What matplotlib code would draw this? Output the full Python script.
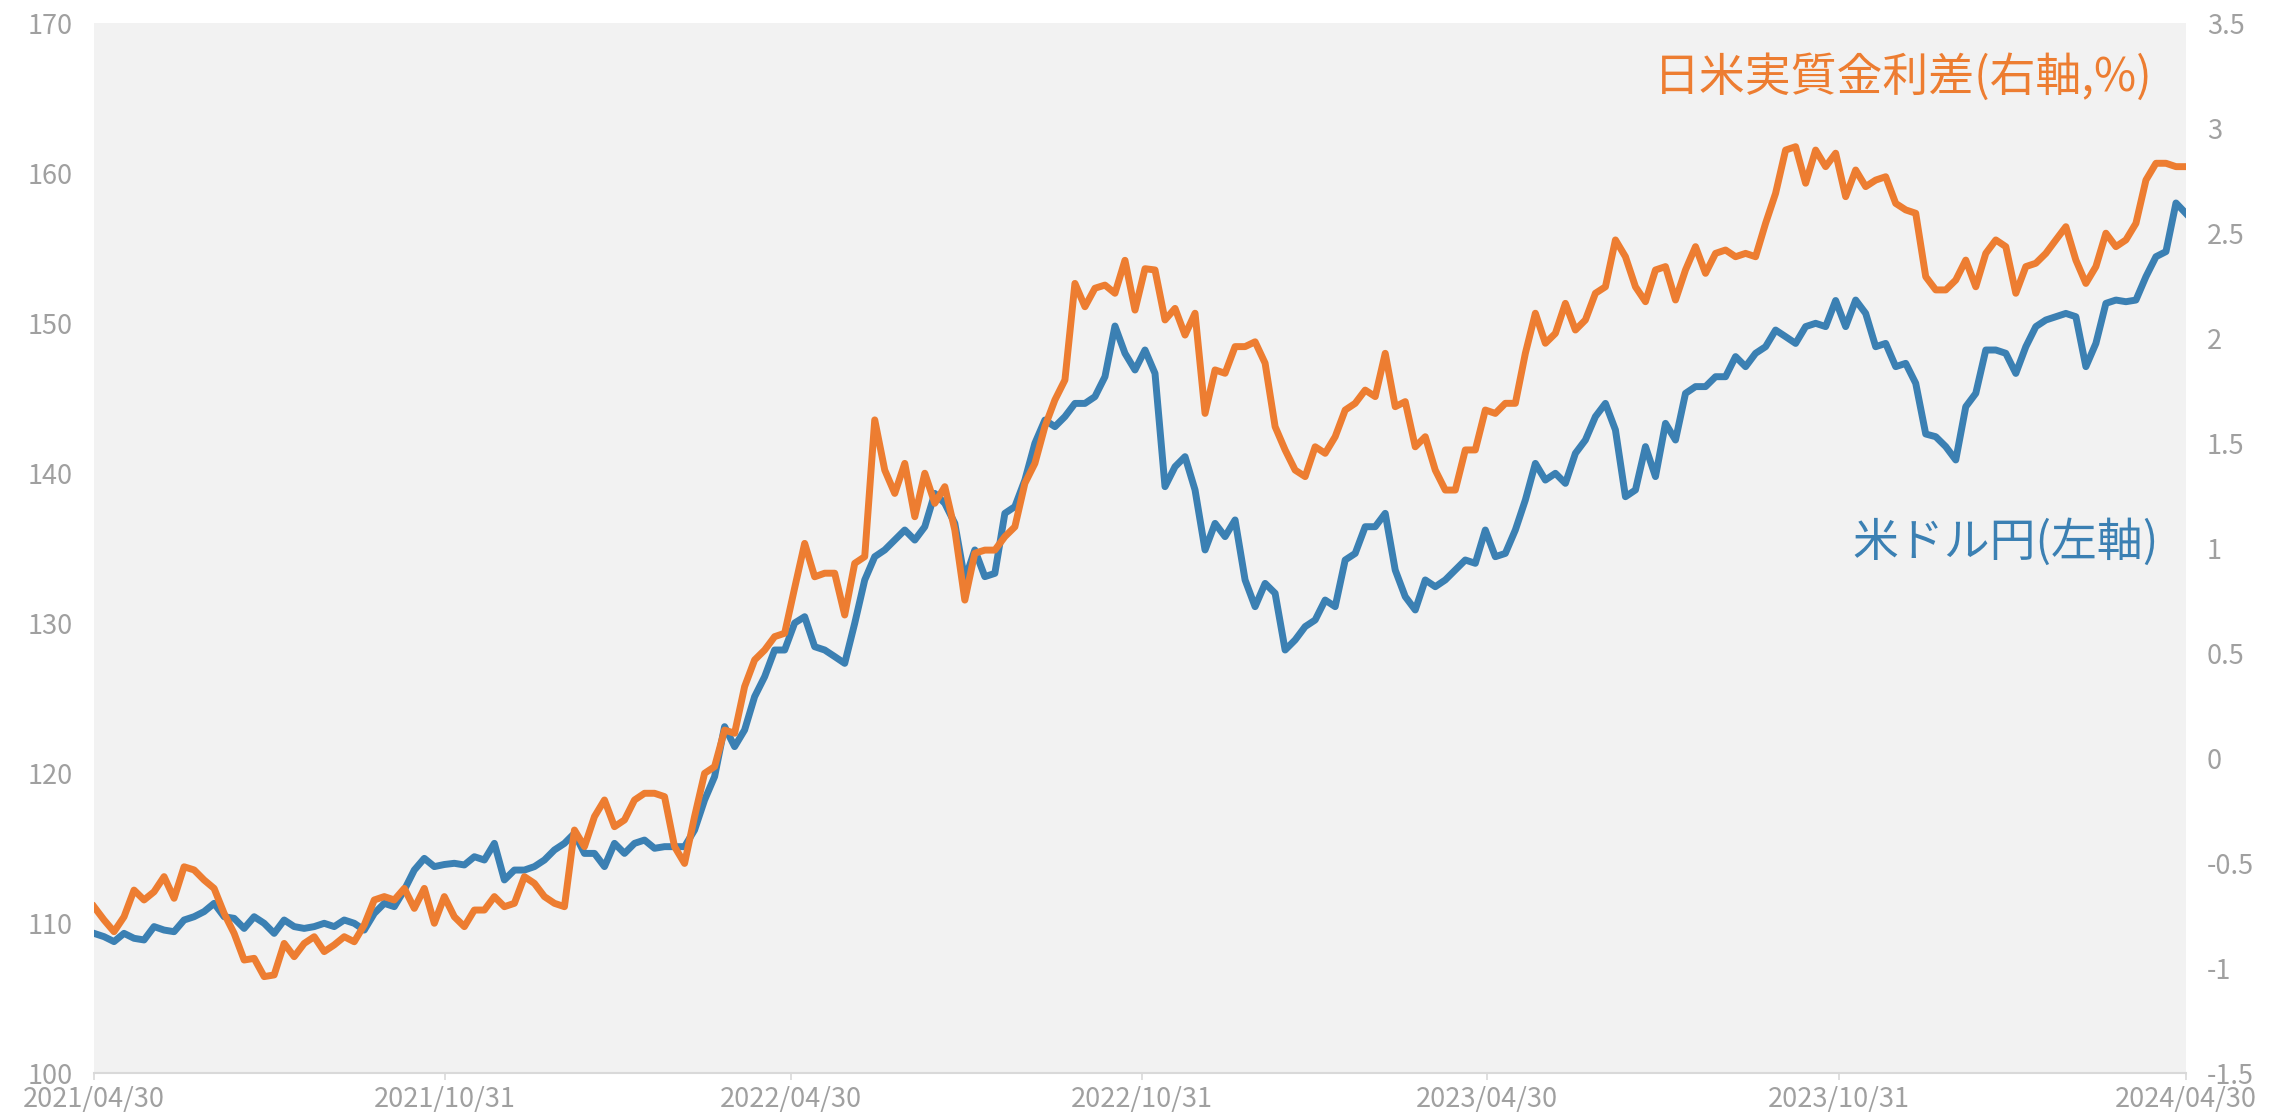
import matplotlib
matplotlib.use("Agg")
import matplotlib.pyplot as plt
import numpy as np
import pandas as pd

plt.rcParams['font.family'] = ['Noto Sans CJK JP', 'DejaVu Sans']
plt.rcParams['axes.unicode_minus'] = False

START = "2021-04-30"
END = "2024-04-30"
N_POINTS = 210

usdjpy = [
    109.31, 109.09, 108.76, 109.31, 108.98, 108.87, 109.76, 109.53, 109.42, 110.20,
    110.42, 110.76, 111.31, 110.42, 110.31, 109.64, 110.42, 109.98, 109.31, 110.20,
    109.76, 109.64, 109.76, 109.98, 109.76, 110.20, 109.98, 109.53, 110.64, 111.31,
    111.09, 112.20, 113.53, 114.31, 113.76, 113.90, 113.98, 113.87, 114.42, 114.20,
    115.31, 112.87, 113.53, 113.53, 113.76, 114.20, 114.87, 115.31, 115.98, 114.64,
    114.64, 113.76, 115.31, 114.64, 115.31, 115.53, 114.98, 115.09, 115.09, 115.09,
    116.20, 118.20, 119.76, 123.09, 121.76, 122.87, 125.09, 126.42, 128.20, 128.20,
    130.00, 130.42, 128.42, 128.20, 127.76, 127.31, 129.98, 132.87, 134.42, 134.87,
    135.53, 136.20, 135.53, 136.42, 138.64, 137.98, 136.64, 132.87, 134.87, 133.09,
    133.31, 137.31, 137.76, 139.53, 141.98, 143.53, 143.09, 143.76, 144.64, 144.64,
    145.09, 146.42, 149.80, 147.98, 146.87, 148.20, 146.64, 139.09, 140.42, 141.09,
    138.87, 134.87, 136.64, 135.76, 136.87, 132.87, 131.09, 132.64, 131.98, 128.20,
    128.87, 129.76, 130.20, 131.53, 131.09, 134.20, 134.64, 136.42, 136.42, 137.31,
    133.53, 131.76, 130.87, 132.87, 132.42, 132.87, 133.53, 134.20, 133.98, 136.20,
    134.42, 134.64, 136.20, 138.20, 140.64, 139.53, 139.98, 139.31, 141.31, 142.20,
    143.76, 144.64, 142.87, 138.42, 138.87, 141.76, 139.76, 143.31, 142.20, 145.31,
    145.76, 145.76, 146.42, 146.42, 147.76, 147.09, 147.98, 148.42, 149.53, 149.09,
    148.64, 149.76, 149.98, 149.76, 151.50, 149.76, 151.53, 150.64, 148.42, 148.64,
    147.09, 147.31, 145.98, 142.60, 142.42, 141.76, 140.87, 144.42, 145.31, 148.20,
    148.20, 147.98, 146.64, 148.42, 149.76, 150.20, 150.42, 150.64, 150.42, 147.09,
    148.64, 151.31, 151.53, 151.42, 151.53, 153.09, 154.42, 154.76, 158.00, 157.30,
]

real_rate_diff = [
    -0.708, -0.771, -0.827, -0.756, -0.629, -0.676, -0.637, -0.565, -0.668, -0.518,
    -0.533, -0.581, -0.621, -0.740, -0.835, -0.962, -0.954, -1.041, -1.033, -0.883,
    -0.946, -0.883, -0.851, -0.922, -0.890, -0.851, -0.875, -0.795, -0.676, -0.660,
    -0.676, -0.621, -0.716, -0.621, -0.787, -0.660, -0.756, -0.803, -0.724, -0.724,
    -0.660, -0.708, -0.692, -0.565, -0.597, -0.660, -0.692, -0.708, -0.343, -0.422,
    -0.279, -0.200, -0.327, -0.295, -0.200, -0.168, -0.168, -0.184, -0.422, -0.502,
    -0.279, -0.073, -0.041, 0.133, 0.118, 0.340, 0.467, 0.514, 0.578, 0.594,
    0.810, 1.022, 0.863, 0.880, 0.880, 0.681, 0.927, 0.959, 1.610, 1.371,
    1.260, 1.403, 1.149, 1.356, 1.213, 1.292, 1.086, 0.752, 0.975, 0.990,
    0.990, 1.054, 1.101, 1.308, 1.403, 1.578, 1.705, 1.800, 2.260, 2.149,
    2.237, 2.252, 2.213, 2.370, 2.133, 2.330, 2.324, 2.086, 2.141, 2.014,
    2.118, 1.641, 1.848, 1.832, 1.959, 1.959, 1.982, 1.880, 1.578, 1.467,
    1.371, 1.340, 1.482, 1.451, 1.530, 1.657, 1.689, 1.752, 1.721, 1.927,
    1.673, 1.697, 1.482, 1.530, 1.371, 1.276, 1.276, 1.467, 1.467, 1.657,
    1.641, 1.689, 1.689, 1.927, 2.118, 1.975, 2.022, 2.165, 2.038, 2.086,
    2.213, 2.244, 2.467, 2.387, 2.244, 2.173, 2.324, 2.340, 2.181, 2.324,
    2.435, 2.308, 2.403, 2.419, 2.387, 2.403, 2.387, 2.546, 2.689, 2.895,
    2.911, 2.737, 2.895, 2.816, 2.880, 2.673, 2.800, 2.721, 2.752, 2.768,
    2.641, 2.610, 2.594, 2.292, 2.229, 2.229, 2.276, 2.371, 2.244, 2.403,
    2.467, 2.435, 2.213, 2.340, 2.356, 2.403, 2.467, 2.530, 2.371, 2.260,
    2.340, 2.499, 2.435, 2.467, 2.546, 2.752, 2.832, 2.832, 2.816, 2.816,
]

x_tick_dates = ["2021/04/30", "2021/10/31", "2022/04/30", "2022/10/31",
                "2023/04/30", "2023/10/31", "2024/04/30"]
left_ticks = [100, 110, 120, 130, 140, 150, 160, 170]
right_ticks = [-1.5, -1, -0.5, 0, 0.5, 1, 1.5, 2, 2.5, 3, 3.5]

label_usdjpy = "米ドル円(左軸)"
label_diff = "日米実質金利差(右軸,%)"

# ---- style ----
BLUE = "#3B80B3"
ORANGE = "#ED7D31"
BG = "#F2F2F2"
TICK_GRAY = "#A0A0A0"
AXIS_GRAY = "#D9D9D9"

dates = pd.date_range(START, END, periods=N_POINTS)

fig = plt.figure(figsize=(22.72, 11.12), dpi=100)
ax = fig.add_axes([0.04137, 0.03507, 0.92077, 0.94424])
ax.set_facecolor(BG)
ax2 = ax.twinx()
ax2.patch.set_visible(False)

ax.plot(dates, usdjpy, color=BLUE, lw=5, solid_joinstyle='round', zorder=3)
ax2.plot(dates, real_rate_diff, color=ORANGE, lw=5, solid_joinstyle='round', zorder=3)

ax.set_xlim(pd.Timestamp(START), pd.Timestamp(END))
ax.set_ylim(100, 170)
ax2.set_ylim(-1.5, 3.5)

ax.set_yticks(left_ticks)
ax.set_yticklabels([str(t) for t in left_ticks])
ax2.set_yticks(right_ticks)
ax2.set_yticklabels([("%g" % t) for t in right_ticks])

xt = [pd.Timestamp(d.replace("/", "-")) for d in x_tick_dates]
ax.set_xticks(xt)
ax.set_xticklabels(x_tick_dates)

for a in (ax, ax2):
    for s in a.spines.values():
        s.set_visible(False)
ax.spines['bottom'].set_visible(True)
ax.spines['bottom'].set_color(AXIS_GRAY)
ax.spines['bottom'].set_linewidth(1.5)

ax.tick_params(axis='y', length=0, pad=15, labelsize=19.5, labelcolor=TICK_GRAY)
ax2.tick_params(axis='y', length=0, pad=15, labelsize=19.5, labelcolor=TICK_GRAY)
ax.tick_params(axis='x', length=5, width=1.2, color=AXIS_GRAY, pad=4,
               labelsize=19.5, labelcolor=TICK_GRAY)

ax.text(0.8650, 0.9476, label_diff, transform=ax.transAxes, ha='center', va='center',
        fontsize=33, color=ORANGE, zorder=5)
ax.text(0.9140, 0.5048, label_usdjpy, transform=ax.transAxes, ha='center', va='center',
        fontsize=33, color=BLUE, zorder=5)

fig.savefig("out.png", dpi=100, facecolor="white")
